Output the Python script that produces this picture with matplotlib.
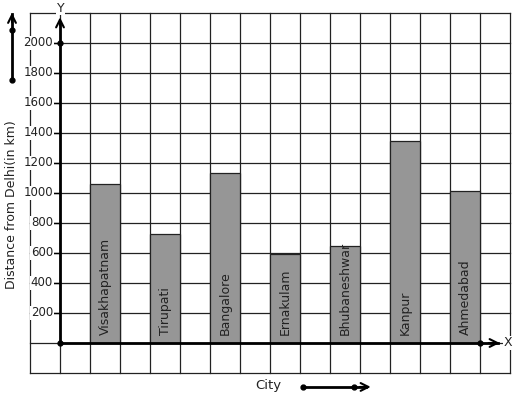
import matplotlib
matplotlib.use("Agg")
import matplotlib.pyplot as plt

cities = ["Visakhapatnam", "Tirupati", "Bangalore", "Ernakulam", "Bhubaneshwar", "Kanpur", "Ahmedabad"]
distances = [1060, 730, 1130, 595, 645, 1345, 1010]
bar_pos = [1.5, 3.5, 5.5, 7.5, 9.5, 11.5, 13.5]
yticks = [200, 400, 600, 800, 1000, 1200, 1400, 1600, 1800, 2000]

W, H = 517, 399
fig = plt.figure(figsize=(W / 100, H / 100), dpi=100)
x0, x1, y0, y1 = 30, 510, 13, 373
ax = fig.add_axes([x0 / W, (H - y1) / H, (x1 - x0) / W, (y1 - y0) / H])
ax.set_xlim(-1, 15)
ax.set_ylim(-200, 2200)
ax.axis("off")

# graph paper grid
for gx in range(-1, 16):
    ax.plot([gx, gx], [-200, 2200], color="#222222", lw=0.9, zorder=1, clip_on=False)
for gy in range(-200, 2201, 200):
    ax.plot([-1, 15], [gy, gy], color="#222222", lw=0.9, zorder=1, clip_on=False)

# bars
ax.bar(bar_pos, distances, width=1.0, color="#969696", edgecolor="#222222", lw=0.9, zorder=2)
for xp, name in zip(bar_pos, cities):
    ax.text(xp, 55, name, rotation=90, ha="center", va="bottom", fontsize=9,
            color="#222222", zorder=4)

# axes
ax.plot([0, 14.6], [0, 0], color="black", lw=2, zorder=3, clip_on=False)
ax.plot([0, 0], [0, 2140], color="black", lw=2, zorder=3, clip_on=False)
ax.annotate("", xy=(14.75, 0), xytext=(14.2, 0),
            arrowprops=dict(arrowstyle="->", lw=1.5, color="black", mutation_scale=14),
            annotation_clip=False, zorder=3)
ax.annotate("", xy=(0, 2190), xytext=(0, 2100),
            arrowprops=dict(arrowstyle="->", lw=1.5, color="black", mutation_scale=14),
            annotation_clip=False, zorder=3)
ax.plot([0, 0, 14], [0, 2000, 0], "o", color="black", ms=3.5, zorder=5, clip_on=False)
ax.text(14.93, 0, "X", ha="center", va="center", fontsize=9, color="#222222",
        bbox=dict(facecolor="white", edgecolor="none", pad=0.5), zorder=5, clip_on=False)
ax.text(0.03, 2233, "Y", ha="center", va="center", fontsize=9, color="#222222",
        bbox=dict(facecolor="white", edgecolor="none", pad=0.5), zorder=5, clip_on=False)

# y tick labels
for t in yticks:
    ax.plot([-0.2, 0], [t, t], color="black", lw=1, zorder=3)
    ax.text(-0.23, t, str(t), ha="right", va="center", fontsize=8.5, color="#222222",
            bbox=dict(facecolor="white", edgecolor="none", pad=0.5), zorder=4, clip_on=False)

# y-axis label with arrow
ax.text(-1.6, 920, "Distance from Delhi(in km)", rotation=90, ha="center", va="center",
        fontsize=9, color="#222222", clip_on=False)
ax.plot([-1.6, -1.6], [1753, 2190], color="black", lw=2, clip_on=False, zorder=3)
ax.annotate("", xy=(-1.6, 2220), xytext=(-1.6, 2120),
            arrowprops=dict(arrowstyle="->", lw=1.5, color="black", mutation_scale=14),
            annotation_clip=False)
ax.plot([-1.6, -1.6], [1753, 2087], "o", color="black", ms=3.5, clip_on=False, zorder=5)

# x-axis label with arrow
ax.text(6.93, -280, "City", ha="center", va="center", fontsize=9.5, color="#222222", clip_on=False)
ax.plot([8.1, 10.2], [-293, -293], color="black", lw=2, clip_on=False)
ax.annotate("", xy=(10.45, -293), xytext=(9.9, -293),
            arrowprops=dict(arrowstyle="->", lw=1.5, color="black", mutation_scale=14),
            annotation_clip=False)
ax.plot([8.1, 9.8], [-293, -293], "o", color="black", ms=3.5, clip_on=False)

fig.savefig("out.png", dpi=100, facecolor="white")
